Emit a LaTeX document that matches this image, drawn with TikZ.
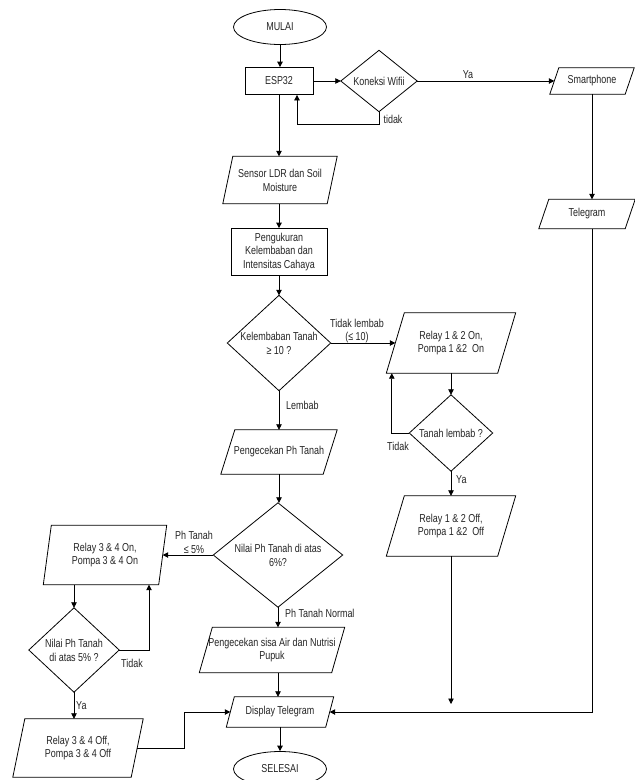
\documentclass[tikz,border=0pt]{standalone}
\usepackage{fontspec}
\setmainfont{Liberation Sans}[FakeStretch=0.78]
\usetikzlibrary{arrows.meta,shapes.geometric}
\newcommand\paranode[7]{%
  \node[box, minimum width=#4pt, minimum height=#5pt] (#1) at (#2,#3) {#7};
  \draw[line] ([xshift=#6pt]#1.north west) -- (#1.north east) -- ([xshift=-#6pt]#1.south east) -- (#1.south west) -- cycle;}
\newcommand\dianode[6]{%
  \node[box, minimum width=#4pt, minimum height=#5pt] (#1) at (#2,#3) {#6};
  \draw[line] (#1.north) -- (#1.east) -- (#1.south) -- (#1.west) -- cycle;}
\begin{document}
\begin{tikzpicture}[x=1pt,y=-1pt,
  line/.style={draw=black, line width=0.8pt},
  arr/.style={line, -{Triangle[length=5.5pt,width=5.5pt]}},
  box/.style={inner sep=0pt, align=center, text=black!85, font=\fontsize{11.5}{13.8}\selectfont},
  lbl/.style={inner sep=0pt, align=center, text=black!85, font=\fontsize{11.5}{13.8}\selectfont},
  rectbox/.style={box, draw, line width=0.8pt},
  oval/.style={box, ellipse, draw, line width=0.8pt}]
\useasboundingbox[fill=white] (0,0) rectangle (635,780);

% nodes
\node[oval, minimum width=93pt, minimum height=35pt] (mulai) at (280,27) {MULAI};
\node[rectbox, minimum width=68pt, minimum height=27pt] (esp) at (279,81) {ESP32};
\dianode{wifi}{379}{81}{76}{61}{Koneksi Wifii}
\paranode{smart}{592}{81}{84}{26}{9}{Smartphone}
\paranode{tele}{587}{214}{96}{29}{10}{Telegram}
\paranode{sensor}{280}{180}{114}{47}{10}{Sensor LDR dan Soil\\Moisture}
\node[rectbox, minimum width=96pt, minimum height=47pt] (ukur) at (279,252) {Pengukuran\\Kelembaban dan\\Intensitas Cahaya};
\dianode{lembab}{279}{343}{103}{95}{Kelembaban Tanah\\≥ 10 ?}
\paranode{r12on}{451}{343}{129}{60}{18}{Relay 1 \& 2 On,\\Pompa 1 \&2\ \ On}
\dianode{tlembab}{451}{433}{83}{76}{Tanah lembab ?}
\paranode{r12off}{451}{526}{129}{60}{18}{Relay 1 \& 2 Off,\\Pompa 1 \&2\ \ Off}
\paranode{ph}{279}{452}{116}{44}{14}{Pengecekan Ph Tanah}
\dianode{nph}{278}{555}{129}{104}{Nilai Ph Tanah di atas\\6\%?}
\paranode{r34on}{105}{555}{123}{59}{8}{Relay 3 \& 4 On,\\Pompa 3 \& 4 On}
\dianode{nph5}{74}{650}{90}{84}{Nilai Ph Tanah\\di atas 5\% ?}
\paranode{r34off}{78}{748}{130}{58}{12}{Relay 3 \& 4 Off,\\Pompa 3 \& 4 Off}
\paranode{sisa}{272}{650}{145}{45}{13}{Pengecekan sisa Air dan Nutrisi\\Pupuk}
\paranode{disp}{280}{712}{107}{30}{8}{Display Telegram}
\node[oval, minimum width=93pt, minimum height=35pt] (selesai) at (280,769) {SELESAI};
\coordinate (r12end) at (451,704);

% connectors
\draw[arr] (mulai.south) -- (mulai.south |- esp.north);
\draw[arr] (esp.east) -- (wifi.west);
\draw[arr] (wifi.east) -- ([xshift=4.5pt]smart.west);
\draw[arr] (wifi.south) -- ++(0,13) -| ([xshift=18pt]esp.south);
\draw[arr] (esp.south) -- (esp.south |- sensor.north);
\draw[arr] (sensor.south -| ukur.north) -- (ukur.north);
\draw[arr] (smart.south) -- (smart.south |- tele.north);
\draw[arr] (smart.south |- tele.south) |- ([xshift=-4pt]disp.east);
\draw[arr] (ukur.south) -- (lembab.north);
\draw[arr] (lembab.east) -- ([xshift=9pt]r12on.west);
\draw[arr] (lembab.south) -- (lembab.south |- ph.north);
\draw[arr] (r12on.south) -- (tlembab.north);
\draw[arr] (tlembab.west) -| ([xshift=5.5pt]r12on.south west);
\draw[arr] (tlembab.south) -- (r12off.north);
\draw[arr] (r12off.south) -- (r12end);
\draw[arr] (ph.south) -- (ph.south |- nph.north);
\draw[arr] (nph.west) -- ([xshift=-4pt]r34on.east);
\draw[arr] (nph.south) -- (nph.south |- sisa.north);
\draw[arr] (nph.south |- sisa.south) -- (nph.south |- disp.north);
\draw[arr] (nph5.north |- r34on.south) -- (nph5.north);
\draw[arr] (nph5.east) -| ([xshift=44pt]r34on.south);
\draw[arr] (nph5.south) -- (nph5.south |- r34off.north);
\draw[arr] ([xshift=-6pt]r34off.east) -- ++(47,0) |- ([xshift=4pt]disp.west);
\draw[arr] (disp.south) -- (selesai.north);

% labels
\node[lbl] (lya1) at (468,75) {Ya};
\node[lbl] (ltidak1) at (393,119) {tidak};
\node[lbl] (ltl) at (357,331) {Tidak lembab\\(≤ 10)};
\node[lbl, anchor=west] (llembab) at (286,405) {Lembab};
\node[lbl] (ltidak2) at (398,446) {Tidak};
\node[lbl, anchor=west] (lya2) at (456,480) {Ya};
\node[lbl] (lph) at (194,542) {Ph Tanah\\≤ 5\%};
\node[lbl, anchor=west] (lnormal) at (285,613) {Ph Tanah Normal};
\node[lbl] (ltidak3) at (132,663) {Tidak};
\node[lbl, anchor=west] (lya3) at (76,706) {Ya};
\end{tikzpicture}
\end{document}
